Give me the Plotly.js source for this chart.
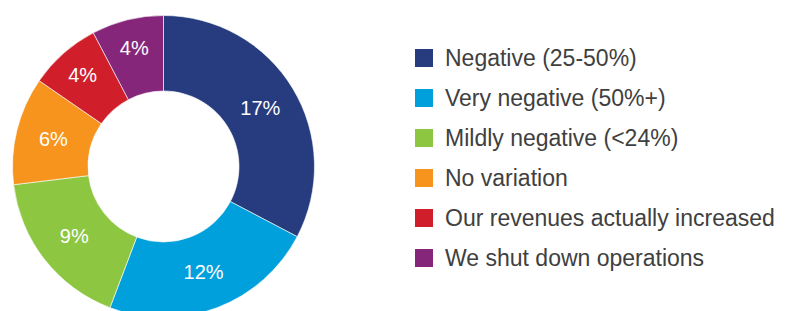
<!DOCTYPE html>
<html>
<head>
<meta charset="utf-8">
<script src="https://cdn.plot.ly/plotly-3.0.1.min.js"></script>
<style>
html,body{margin:0;padding:0;overflow:hidden;background:#fff;}
#chart{width:789px;height:334px;}
</style>
</head>
<body>
<div id="chart"></div>
<script>
const labels = ["Negative (25-50%)", "Very negative (50%+)", "Mildly negative (<24%)", "No variation", "Our revenues actually increased", "We shut down operations"];
const values = [17, 12, 9, 6, 4, 4];
const colors = ["#263c7e", "#00a0dc", "#8dc641", "#f7941e", "#d01f2b", "#85267b"];

const W = 789, H = 334;
const cx = 163.5, cy = 166.5, R = 151;
const font = "Liberation Sans, Arial, Helvetica, sans-serif";

const shapes = [], annotations = [];
labels.forEach((lab, i) => {
  const yc = 58 + i * 40;
  shapes.push({type: "rect", xref: "paper", yref: "paper",
    x0: 415 / W, x1: 433 / W, y0: (H - (yc + 9)) / H, y1: (H - (yc - 9)) / H,
    fillcolor: colors[i], line: {width: 0}});
  annotations.push({xref: "paper", yref: "paper", x: 443 / W, y: (H - yc) / H,
    xanchor: "left", yanchor: "middle", showarrow: false, text: lab.replace(/</g, "&lt;"),
    font: {family: font, size: 23, color: "#404040"}});
});

const trace = {
  type: "pie",
  labels: labels,
  values: values,
  sort: false,
  direction: "clockwise",
  rotation: 0,
  hole: 0.5,
  marker: {colors: colors, line: {color: "#ffffff", width: 0.6}},
  texttemplate: "%{value}%",
  textposition: "inside",
  insidetextorientation: "horizontal",
  textfont: {family: font, size: 20, color: "#ffffff"},
  showlegend: false,
  hoverinfo: "label+value",
  domain: {x: [(cx - R) / W, (cx + R) / W], y: [(H - (cy + R)) / H, (H - (cy - R)) / H]}
};

Plotly.newPlot("chart", [trace], {
  width: W, height: H,
  margin: {l: 0, r: 0, t: 0, b: 0},
  paper_bgcolor: "#ffffff",
  showlegend: false,
  shapes: shapes,
  annotations: annotations,
  font: {family: font}
}, {displayModeBar: false, staticPlot: true});
</script>
</body>
</html>
